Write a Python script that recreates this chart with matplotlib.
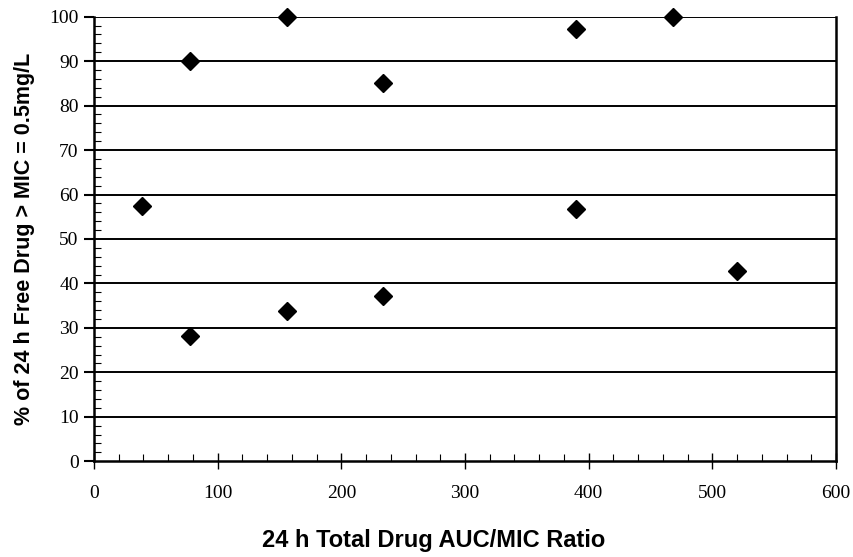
import numpy as np
import matplotlib
matplotlib.use("Agg")
import matplotlib.pyplot as plt
from matplotlib.ticker import MultipleLocator

# data
auc_mic = [39, 78, 78, 156, 156, 234, 234, 390, 390, 468, 520]
pct_time = [57.5, 90, 28.2, 100, 33.8, 85.1, 37.1, 97.3, 56.8, 100, 42.9]

x_ticks = [0, 100, 200, 300, 400, 500, 600]
y_ticks = [0, 10, 20, 30, 40, 50, 60, 70, 80, 90, 100]

fig = plt.figure(figsize=(8.54, 5.57), dpi=100)
ax = fig.add_axes([0.110, 0.172, 0.869, 0.798])

ax.set_xlim(0, 600)
ax.set_ylim(0, 100)

# horizontal grid lines incl. the one at 100 (no top spine)
for y in y_ticks[1:]:
    ax.axhline(y, color="black", lw=1.4, zorder=1)

ax.plot(auc_mic, pct_time, linestyle="none", marker="D", markersize=9.5,
        color="black", zorder=3, clip_on=False)

ax.spines["top"].set_visible(False)
for s in ["left", "bottom", "right"]:
    ax.spines[s].set_linewidth(1.8)
    ax.spines[s].set_color("black")

ax.set_xticks(x_ticks)
ax.set_yticks(y_ticks)
ax.xaxis.set_minor_locator(MultipleLocator(20))
ax.yaxis.set_minor_locator(MultipleLocator(2))

ax.tick_params(axis="x", which="major", direction="inout", length=12, width=1,
               pad=11)
ax.tick_params(axis="x", which="minor", direction="in", length=5, width=0.8)
ax.tick_params(axis="y", which="major", direction="out", length=7, width=1.5,
               pad=4)
ax.tick_params(axis="y", which="minor", direction="in", length=5, width=0.8)

for lab in ax.get_xticklabels() + ax.get_yticklabels():
    lab.set_fontfamily("Liberation Serif")
    lab.set_fontsize(14)

ax.set_xlabel("24 h Total Drug AUC/MIC Ratio", fontfamily="Liberation Sans",
              fontweight="bold", fontsize=17)
ax.xaxis.set_label_coords(0.458, -0.152)
ax.set_ylabel("% of 24 h Free Drug > MIC = 0.5mg/L", fontfamily="Liberation Sans",
              fontweight="bold", fontsize=15.5, labelpad=10)

fig.savefig("out.png", dpi=100)
